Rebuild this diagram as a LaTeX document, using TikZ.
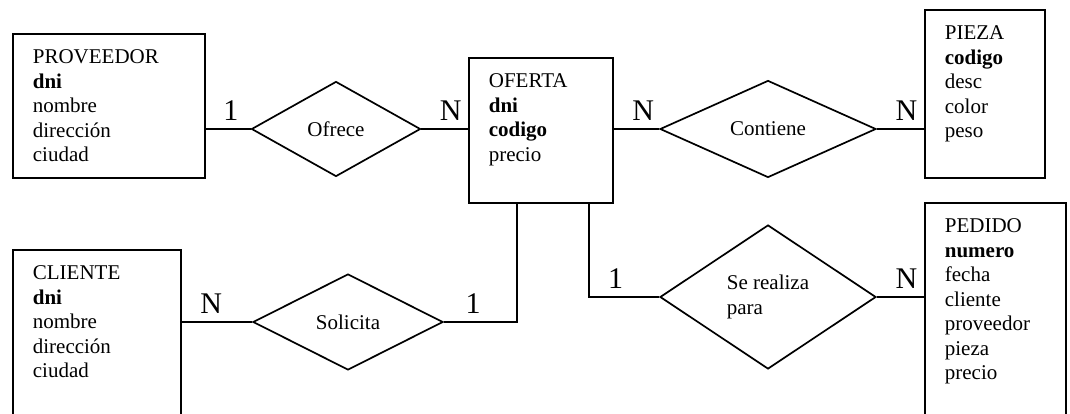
\documentclass[tikz,border=0pt]{standalone}
\usepackage{fontspec}
\setmainfont{Liberation Serif}
\usetikzlibrary{shapes.geometric}

\begin{document}
\begin{tikzpicture}[x=1pt,y=-1pt,line width=1.7pt]
		\tikzset{entidad/.style={draw,anchor=north west,align=left,inner xsep=20pt,inner ysep=0pt,
				text height=30pt,font=\fontsize{21}{24.5}\selectfont},
			relacion/.style={draw,diamond,inner sep=0pt,font=\fontsize{21}{24.5}\selectfont},
			card/.style={above,inner xsep=0pt,inner ysep=7.5pt,font=\fontsize{30}{30}\selectfont}}
		\useasboundingbox (0,0) rectangle (1070,414);
		\clip (0,0) rectangle (1070,414);
		% entidades
		\node (prov) at (12,33) [entidad,text width=152pt,text depth=114pt] {PROVEEDOR\\\textbf{dni}\\nombre\\dirección\\ciudad};
		\node (oferta) at (468,57) [entidad,text width=104pt,text depth=115pt] {OFERTA\\\textbf{dni}\\\textbf{codigo}\\precio};
		\node (pieza) at (924,9) [entidad,text width=80pt,text depth=138pt] {PIEZA\\\textbf{codigo}\\desc\\color\\peso};
		\node (pedido) at (924,202) [entidad,text width=101pt,text depth=200pt] {PEDIDO\\\textbf{numero}\\fecha\\cliente\\proveedor\\pieza\\precio};
		\node (cliente) at (12,249) [entidad,text width=128pt,text depth=150pt] {CLIENTE\\\textbf{dni}\\nombre\\dirección\\ciudad};
		% relaciones
		\node (ofrece) at (336,129) [relacion,minimum width=169pt,minimum height=95pt] {Ofrece};
		\node (contiene) at (768,129) [relacion,minimum width=216pt,minimum height=97pt] {Contiene};
		\node (solicita) at (348,322) [relacion,minimum width=190pt,minimum height=96pt] {Solicita};
		\node (realiza) at (768,297) [relacion,minimum width=216pt,minimum height=144pt,align=left] {Se realiza\\para};
		\coordinate (o1) at ([xshift=-24pt]oferta.south);
		\coordinate (o2) at ([xshift=48pt]oferta.south);
		% conexiones
		\draw (ofrece.west -| prov.east) -- node[card,pos=0.56]{1} (ofrece.west);
		\draw (ofrece.east) -- node[card,pos=0.63]{N} (ofrece.east -| oferta.west);
		\draw (contiene.west -| oferta.east) -- node[card,pos=0.65]{N} (contiene.west);
		\draw (contiene.east) -- node[card,pos=0.63]{N} (contiene.east -| pieza.west);
		\draw (solicita.west -| cliente.east) -- node[card,pos=0.42]{N} (solicita.west);
		\draw (solicita.east) -| node[card,pos=0.2]{1} (o1);
		\draw (o2) |- node[card,pos=0.69]{1} (realiza.west);
		\draw (realiza.east) -- node[card,pos=0.63]{N} (realiza.east -| pedido.west);
	\end{tikzpicture}
\end{document}
